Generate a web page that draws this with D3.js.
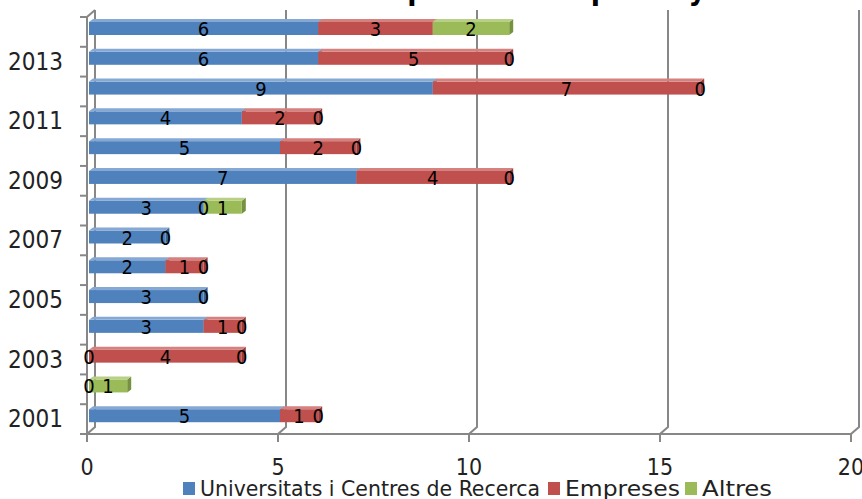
<!DOCTYPE html>
<html>
<head>
<meta charset="utf-8">
<script src="https://cdn.jsdelivr.net/npm/d3@7"></script>
<style>
body { margin: 0; background: #fff; }
svg { display: block; font-family: "Liberation Sans Narrow", "DejaVu Sans Condensed", sans-serif; }
</style>
</head>
<body>
<svg id="chart" width="862" height="499"></svg>
<script>
// data (null = no label shown)
var years    = [2001, 2002, 2003, 2004, 2005, 2006, 2007, 2008, 2009, 2010, 2011, 2012, 2013, 2014];
var univ     = [5, 0, 0, 3, 3, 2, 2, 3, 7, 5, 4, 9, 6, 6];
var empreses = [1, null, 4, 1, 0, 1, 0, 0, 4, 2, 2, 7, 5, 3];
var altres   = [0, 1, 0, 0, null, 0, null, 1, 0, 0, 0, 0, 0, 2];
var seriesNames = ["Universitats i Centres de Recerca", "Empreses", "Altres"];
var xTicks = [0, 5, 10, 15, 20];
var yTickYears = [2001, 2003, 2005, 2007, 2009, 2011, 2013];

var colors = [
  {front: "#4F81BD", top: "#86A8D4", side: "#3A6596"},
  {front: "#C0504D", top: "#D4817F", side: "#963D3A"},
  {front: "#9BBB59", top: "#B8D085", side: "#76913F"}
];
var gridColor = "#878787";

var svg = d3.select("#chart");

var x = d3.scaleLinear().domain([0, 20]).range([87, 851]);
var y = d3.scaleBand().domain(years).range([434, 17]);

var wall = {dx: 8, dy: -7};   // depth of back wall
var barOff = {dx: 2, dy: -2}; // bar front sits a bit behind the front plane
var depth = {dx: 4, dy: -3};  // bar thickness
var barH = 13;

// title (mostly cut off at the top)
svg.append("text")
  .attr("x", 706).attr("y", 0)
  .attr("text-anchor", "end")
  .attr("font-weight", "bold")
  .attr("font-size", 30)
  .text("Tesis doctorals per sector i per any");

// back gridlines with the little floor step
var grid = svg.append("g").attr("stroke", gridColor).attr("stroke-width", 2).attr("fill", "none");
xTicks.forEach(function(t) {
  grid.append("path")
    .attr("d", "M" + (x(t) + wall.dx) + "," + (17 + wall.dy) +
      "V" + (434 + wall.dy) + "L" + x(t) + ",434V442");
});
// left wall
grid.append("path").attr("d", "M" + x(0) + ",434V17L" + (x(0) + wall.dx) + "," + (17 + wall.dy));
// floor front edge
grid.append("path").attr("d", "M" + x(0) + ",434H" + x(20));
// left ticks at band edges
d3.range(years.length + 1).forEach(function(i) {
  var yy = 434 - i * y.step();
  grid.append("path").attr("d", "M80," + yy + "H" + x(0));
});

// stacked bars
var table = years.map(function(yr, i) {
  return {year: yr, v: [univ[i], empreses[i], altres[i]]};
});

var bars = svg.append("g");
var labels = svg.append("g").attr("font-size", 20).attr("text-anchor", "middle").attr("fill", "#000");

table.forEach(function(row) {
  var top = y(row.year) + 5 + 2 + barOff.dy;
  var acc = 0;
  row.v.forEach(function(v, s) {
    var val = v || 0;
    var x0 = x(acc) + barOff.dx, x1 = x(acc + val) + barOff.dx;
    var c = colors[s];
    if (val > 0) {
      bars.append("polygon")
        .attr("points", [[x1, top], [x1 + depth.dx, top + depth.dy], [x1 + depth.dx, top + depth.dy + barH], [x1, top + barH]].join(" "))
        .attr("fill", c.side);
      bars.append("rect")
        .attr("x", x0).attr("y", top).attr("width", x1 - x0).attr("height", barH)
        .attr("fill", c.front);
      bars.append("polygon")
        .attr("points", [[x0, top], [x1, top], [x1 + depth.dx, top + depth.dy], [x0 + depth.dx, top + depth.dy]].join(" "))
        .attr("fill", c.top);
    }
    if (v !== null) {
      labels.append("text")
        .attr("x", (x0 + x1) / 2)
        .attr("y", top + 14)
        .text(v);
    }
    acc += val;
  });
});

// y labels
svg.append("g").attr("font-size", 24).attr("text-anchor", "end").attr("fill", "#222")
  .selectAll("text").data(yTickYears).enter().append("text")
  .attr("x", 63)
  .attr("y", function(d) { return y(d) + y.bandwidth() / 2 + 8; })
  .text(function(d) { return d; });

// x labels
svg.append("g").attr("font-size", 23).attr("text-anchor", "middle").attr("fill", "#222")
  .selectAll("text").data(xTicks).enter().append("text")
  .attr("x", function(d) { return x(d); })
  .attr("y", 475)
  .text(function(d) { return d; });

// legend
var legendX = [183, 548, 685];
var legendW = [340, 115, 70];
var legend = svg.append("g").attr("font-size", 22).attr("fill", "#222");
seriesNames.forEach(function(name, i) {
  legend.append("rect")
    .attr("x", legendX[i]).attr("y", 482).attr("width", 12).attr("height", 13)
    .attr("fill", colors[i].front);
  legend.append("text")
    .attr("x", legendX[i] + 17).attr("y", 496)
    .attr("textLength", legendW[i]).attr("lengthAdjust", "spacingAndGlyphs")
    .text(name);
});
</script>
</body>
</html>
